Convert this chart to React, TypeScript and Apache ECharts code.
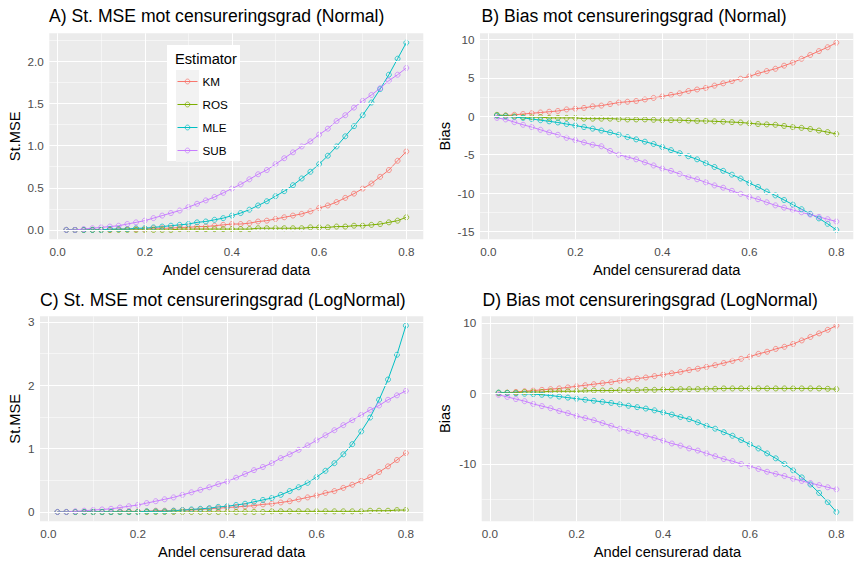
import { useEffect, useRef } from "react";
import * as echarts from "echarts";

// andel censurerad data (x)
const X_VALUES = [
  0.02, 0.04, 0.06, 0.08, 0.1, 0.12, 0.14, 0.16, 0.18, 0.2,
  0.22, 0.24, 0.26, 0.28, 0.3, 0.32, 0.34, 0.36, 0.38, 0.4,
  0.42, 0.44, 0.46, 0.48, 0.5, 0.52, 0.54, 0.56, 0.58, 0.6,
  0.62, 0.64, 0.66, 0.68, 0.7, 0.72, 0.74, 0.76, 0.78, 0.8,
];

const ESTIMATORS = ["KM", "ROS", "MLE", "SUB"];
const COLORS = ["#F8766D", "#7CAE00", "#00BFC4", "#C77CFF"];

// A) St. MSE, Normal
const A_KM = [
  0, 0, 0, 0, 0, 0, 0.01, 0.01, 0.01, 0.01,
  0.02, 0.02, 0.02, 0.03, 0.03, 0.04, 0.04, 0.05, 0.06, 0.07,
  0.07, 0.08, 0.1, 0.11, 0.13, 0.15, 0.17, 0.19, 0.22, 0.26,
  0.29, 0.33, 0.38, 0.43, 0.49, 0.55, 0.63, 0.71, 0.82, 0.93,
];
const A_ROS = [
  0, 0, 0, 0, 0, 0, 0, 0, 0, 0,
  0, 0, 0, 0.01, 0.01, 0.01, 0.01, 0.01, 0.01, 0.01,
  0.01, 0.01, 0.02, 0.02, 0.02, 0.02, 0.02, 0.02, 0.03, 0.03,
  0.03, 0.04, 0.04, 0.05, 0.05, 0.06, 0.07, 0.09, 0.11, 0.15,
];
const A_MLE = [
  0, 0, 0, 0, 0, 0.01, 0.01, 0.01, 0.02, 0.02,
  0.03, 0.04, 0.05, 0.06, 0.07, 0.09, 0.1, 0.12, 0.14, 0.17,
  0.2, 0.24, 0.29, 0.34, 0.4, 0.46, 0.53, 0.61, 0.69, 0.78,
  0.88, 0.99, 1.11, 1.23, 1.36, 1.51, 1.67, 1.84, 2.03, 2.22,
];
const A_SUB = [
  0, 0, 0.01, 0.02, 0.03, 0.04, 0.05, 0.07, 0.09, 0.11,
  0.14, 0.17, 0.2, 0.23, 0.27, 0.31, 0.35, 0.39, 0.44, 0.49,
  0.54, 0.6, 0.66, 0.71, 0.78, 0.85, 0.92, 0.99, 1.05, 1.13,
  1.2, 1.29, 1.36, 1.45, 1.53, 1.6, 1.68, 1.77, 1.84, 1.92,
];

// B) Bias, Normal
const B_KM = [
  0.1, 0.1, 0.2, 0.3, 0.4, 0.5, 0.6, 0.7, 0.9, 1.0,
  1.1, 1.3, 1.4, 1.6, 1.8, 1.9, 2.0, 2.2, 2.4, 2.6,
  2.8, 3.0, 3.3, 3.5, 3.7, 4.0, 4.3, 4.6, 4.9, 5.2,
  5.6, 5.9, 6.2, 6.6, 7.0, 7.5, 8.0, 8.5, 9.0, 9.6,
];
const B_ROS = [
  0.2, 0.1, 0, -0.1, -0.1, -0.1, -0.2, -0.2, -0.2, -0.2,
  -0.3, -0.3, -0.3, -0.3, -0.35, -0.4, -0.4, -0.4, -0.45, -0.5,
  -0.5, -0.5, -0.55, -0.6, -0.6, -0.65, -0.7, -0.75, -0.8, -0.9,
  -1.0, -1.05, -1.1, -1.25, -1.4, -1.5, -1.65, -1.85, -2.05, -2.3,
];
const B_MLE = [
  0.1, 0, -0.1, -0.2, -0.35, -0.5, -0.65, -0.8, -1.0, -1.2,
  -1.4, -1.6, -1.85, -2.1, -2.4, -2.7, -3.0, -3.3, -3.6, -4.0,
  -4.4, -4.8, -5.2, -5.6, -6.1, -6.6, -7.1, -7.6, -8.1, -8.7,
  -9.2, -9.8, -10.3, -10.9, -11.5, -12.1, -12.7, -13.3, -14.0, -14.8,
];
const B_SUB = [
  -0.2, -0.4, -0.75, -1.1, -1.4, -1.75, -2.1, -2.4, -2.8, -3.1,
  -3.4, -3.7, -3.9, -4.5, -5.0, -5.3, -5.6, -6.0, -6.4, -6.8,
  -7.1, -7.5, -7.9, -8.2, -8.6, -9.0, -9.3, -9.7, -10.1, -10.5,
  -10.8, -11.2, -11.6, -11.9, -12.2, -12.5, -12.8, -13.1, -13.4, -13.7,
];

// C) St. MSE, LogNormal
const C_KM = [
  0, 0, 0, 0, 0, 0, 0, 0.01, 0.01, 0.01,
  0.01, 0.02, 0.02, 0.02, 0.03, 0.03, 0.04, 0.05, 0.06, 0.07,
  0.08, 0.09, 0.1, 0.12, 0.13, 0.15, 0.17, 0.2, 0.23, 0.26,
  0.3, 0.33, 0.38, 0.43, 0.49, 0.55, 0.63, 0.72, 0.82, 0.93,
];
const C_ROS = [
  0, 0, 0, 0, 0, 0, 0, 0, 0, 0,
  0, 0, 0, 0, 0, 0, 0, 0, 0, 0,
  0, 0, 0, 0, 0.01, 0.01, 0.01, 0.01, 0.01, 0.01,
  0.01, 0.01, 0.01, 0.01, 0.01, 0.02, 0.02, 0.02, 0.03, 0.03,
];
const C_MLE = [
  0, 0, 0, 0, 0, 0, 0, 0, 0, 0,
  0.01, 0.01, 0.01, 0.02, 0.03, 0.04, 0.05, 0.06, 0.08, 0.09,
  0.11, 0.13, 0.16, 0.19, 0.22, 0.27, 0.33, 0.39, 0.46, 0.55,
  0.65, 0.77, 0.91, 1.07, 1.27, 1.49, 1.77, 2.09, 2.48, 2.94,
];
const C_SUB = [
  0, 0, 0.01, 0.02, 0.03, 0.04, 0.05, 0.07, 0.09, 0.11,
  0.14, 0.17, 0.2, 0.23, 0.27, 0.31, 0.35, 0.39, 0.44, 0.48,
  0.54, 0.6, 0.66, 0.71, 0.77, 0.85, 0.91, 0.98, 1.05, 1.13,
  1.21, 1.29, 1.37, 1.45, 1.53, 1.61, 1.68, 1.77, 1.84, 1.91,
];

// D) Bias, LogNormal
const D_KM = [
  0, 0.1, 0.2, 0.3, 0.4, 0.5, 0.6, 0.7, 0.85, 1.0,
  1.15, 1.3, 1.45, 1.6, 1.8, 1.95, 2.1, 2.25, 2.45, 2.65,
  2.85, 3.05, 3.3, 3.5, 3.75, 4.0, 4.3, 4.6, 4.9, 5.2,
  5.6, 5.9, 6.3, 6.6, 7.0, 7.5, 8.0, 8.5, 9.0, 9.6,
];
const D_ROS = [
  0.1, 0.1, 0.1, 0.2, 0.2, 0.2, 0.3, 0.3, 0.3, 0.3,
  0.35, 0.4, 0.4, 0.4, 0.45, 0.45, 0.45, 0.5, 0.5, 0.55,
  0.55, 0.6, 0.6, 0.6, 0.65, 0.65, 0.7, 0.7, 0.7, 0.7,
  0.7, 0.7, 0.7, 0.7, 0.7, 0.7, 0.7, 0.7, 0.65, 0.6,
];
const D_MLE = [
  0.1, 0.05, 0, -0.05, -0.1, -0.2, -0.3, -0.45, -0.6, -0.75,
  -0.9, -1.05, -1.2, -1.35, -1.55, -1.75, -1.95, -2.15, -2.4, -2.7,
  -3.0, -3.35, -3.65, -4.1, -4.6, -5.0, -5.5, -6.0, -6.6, -7.2,
  -7.8, -8.5, -9.2, -10.0, -10.9, -11.9, -12.9, -14.1, -15.4, -16.8,
];
const D_SUB = [
  -0.2, -0.5, -0.8, -1.1, -1.5, -1.8, -2.1, -2.5, -2.8, -3.2,
  -3.5, -3.8, -4.2, -4.6, -5.0, -5.3, -5.6, -6.0, -6.3, -6.7,
  -7.1, -7.4, -7.8, -8.1, -8.5, -8.9, -9.3, -9.6, -10.0, -10.3,
  -10.7, -11.1, -11.4, -11.7, -12.1, -12.4, -12.7, -13.0, -13.3, -13.6,
];

const X_TICKS = [0, 0.2, 0.4, 0.6, 0.8];
const X_MINOR = [0.1, 0.3, 0.5, 0.7];

const TITLES = [
  "A) St. MSE mot censureringsgrad (Normal)",
  "B) Bias mot censureringsgrad (Normal)",
  "C) St. MSE mot censureringsgrad (LogNormal)",
  "D) Bias mot censureringsgrad (LogNormal)",
];
const Y_NAMES = ["St.MSE", "Bias", "St.MSE", "Bias"];
const X_NAME = "Andel censurerad data";

const A_Y_TICKS = [0, 0.5, 1, 1.5, 2];
const A_Y_MINOR = [0.25, 0.75, 1.25, 1.75, 2.25];
const B_Y_TICKS = [-15, -10, -5, 0, 5, 10];
const B_Y_MINOR = [-12.5, -7.5, -2.5, 2.5, 7.5];
const C_Y_TICKS = [0, 1, 2, 3];
const C_Y_MINOR = [0.5, 1.5, 2.5];
const D_Y_TICKS = [-10, 0, 10];
const D_Y_MINOR = [-15, -5, 5];

const PANELS = [
  { series: [A_KM, A_ROS, A_MLE, A_SUB], yTicks: A_Y_TICKS, yMinor: A_Y_MINOR, digits: 1 },
  { series: [B_KM, B_ROS, B_MLE, B_SUB], yTicks: B_Y_TICKS, yMinor: B_Y_MINOR, digits: 0 },
  { series: [C_KM, C_ROS, C_MLE, C_SUB], yTicks: C_Y_TICKS, yMinor: C_Y_MINOR, digits: 0 },
  { series: [D_KM, D_ROS, D_MLE, D_SUB], yTicks: D_Y_TICKS, yMinor: D_Y_MINOR, digits: 0 },
];

// pixel layout of the four panels
const LAYOUT = [
  { left: 49.3, top: 33.3, width: 374, height: 206, titleLeft: 49, titleTop: 7, yGap: 27 },
  { left: 480, top: 33.3, width: 373.3, height: 206, titleLeft: 481.5, titleTop: 7, yGap: 28 },
  { left: 40, top: 316.3, width: 383.3, height: 205, titleLeft: 40, titleTop: 290.5, yGap: 18 },
  { left: 481.7, top: 316.3, width: 371.6, height: 205, titleLeft: 482.5, titleTop: 290.5, yGap: 29.5 },
];

const FONT = '"Liberation Sans", Arial, sans-serif';
const PANEL_BG = "#EBEBEB";

// ggplot-style 5% expansion
function expand(values: number[]): [number, number] {
  const lo = Math.min(...values);
  const hi = Math.max(...values);
  const pad = (hi - lo) * 0.05;
  return [lo - pad, hi + pad];
}

function buildOption(): echarts.EChartsOption {
  const [xMin, xMax] = expand(X_VALUES);
  const grid: any[] = [];
  const xAxis: any[] = [];
  const yAxis: any[] = [];
  const series: any[] = [];
  const title: any[] = [];

  const major = { color: "#FFFFFF", width: 1.1, type: "solid" };
  const minor = { color: "#FFFFFF", width: 0.5, type: "solid" };

  PANELS.forEach((p, i) => {
    const L = LAYOUT[i];
    const [yMin, yMax] = expand(p.series.flat());
    grid.push({
      left: L.left,
      top: L.top,
      width: L.width,
      height: L.height,
      show: true,
      backgroundColor: PANEL_BG,
      borderWidth: 0,
    });
    title.push({
      text: TITLES[i],
      left: L.titleLeft,
      top: L.titleTop,
      padding: 0,
      textStyle: { fontFamily: FONT, fontSize: 17.6, fontWeight: "normal", color: "#000000" },
    });
    xAxis.push({
      type: "value",
      gridIndex: i,
      min: xMin,
      max: xMax,
      name: X_NAME,
      nameLocation: "middle",
      nameGap: 23,
      nameTextStyle: { fontFamily: FONT, fontSize: 14.67, color: "#000000" },
      axisLine: { show: false },
      axisTick: { show: true, length: 3.7, lineStyle: { color: "#333333", width: 1 }, customValues: X_TICKS },
      axisLabel: {
        customValues: X_TICKS,
        formatter: (v: number) => v.toFixed(1),
        fontFamily: FONT,
        fontSize: 11.7,
        color: "#4D4D4D",
        margin: 6,
      },
      splitLine: { show: false },
    });
    yAxis.push({
      type: "value",
      gridIndex: i,
      min: yMin,
      max: yMax,
      name: Y_NAMES[i],
      nameLocation: "middle",
      nameRotate: 90,
      nameGap: L.yGap,
      nameTextStyle: { fontFamily: FONT, fontSize: 14.67, color: "#000000" },
      axisLine: { show: false },
      axisTick: { show: true, length: 3.7, lineStyle: { color: "#333333", width: 1 }, customValues: p.yTicks },
      axisLabel: {
        customValues: p.yTicks,
        formatter: (v: number) => v.toFixed(p.digits),
        fontFamily: FONT,
        fontSize: 11.7,
        color: "#4D4D4D",
        margin: 5.5,
      },
      splitLine: { show: false },
    });
    // panel grid lines (ggplot major + minor) through the axes' scales
    series.push({
      type: "line",
      name: "grid" + i,
      xAxisIndex: i,
      yAxisIndex: i,
      data: [],
      z: 1,
      silent: true,
      markLine: {
        silent: true,
        symbol: ["none", "none"],
        label: { show: false },
        emphasis: { disabled: true },
        animation: false,
        data: [
          ...X_MINOR.map((v) => ({ xAxis: v, lineStyle: minor })),
          ...p.yMinor.map((v) => ({ yAxis: v, lineStyle: minor })),
          ...X_TICKS.map((v) => ({ xAxis: v, lineStyle: major })),
          ...p.yTicks.map((v) => ({ yAxis: v, lineStyle: major })),
        ],
      },
    });
    p.series.forEach((vals, k) => {
      series.push({
        type: "line",
        name: ESTIMATORS[k],
        xAxisIndex: i,
        yAxisIndex: i,
        data: X_VALUES.map((x, j) => [x, vals[j]]),
        z: 2,
        color: COLORS[k],
        symbol: "circle",
        symbolSize: 5,
        showSymbol: true,
        lineStyle: { color: COLORS[k], width: 1 },
        itemStyle: { color: "transparent", borderColor: COLORS[k], borderWidth: 0.75 },
        emphasis: { disabled: true },
      });
    });
  });

  return {
    animation: false,
    backgroundColor: "#FFFFFF",
    title,
    grid,
    xAxis,
    yAxis,
    series,
    legend: {
      data: ESTIMATORS.map((name, k) => ({
        name,
        itemStyle: { color: "transparent", borderColor: COLORS[k], borderWidth: 0.75 },
        lineStyle: { color: COLORS[k], width: 1 },
      })),
      orient: "vertical",
      left: 177,
      top: 70,
      padding: 0,
      itemGap: 0,
      itemWidth: 20,
      itemHeight: 6,
      selectedMode: false,
      z: 20,
      textStyle: { fontFamily: FONT, fontSize: 11.7, color: "#000000", lineHeight: 23 },
    },
    graphic: {
      elements: [
        {
          type: "group",
          z: 10,
          silent: true,
          children: [
            {
              type: "rect",
              z: 10,
              shape: { x: 167, y: 45, width: 73, height: 116 },
              style: { fill: "#FFFFFF" },
            },
            ...ESTIMATORS.map((_, k) => ({
              type: "rect",
              z: 11,
              shape: { x: 176, y: 70 + 23 * k, width: 23, height: 23 },
              style: { fill: "#F2F2F2" },
            })),
            {
              type: "text",
              z: 12,
              x: 175,
              y: 59,
              style: {
                text: "Estimator",
                fontFamily: FONT,
                fontSize: 14.67,
                fill: "#000000",
                verticalAlign: "middle",
              },
            },
          ],
        },
      ],
    },
  };
}

export default function App() {
  const ref = useRef<HTMLDivElement | null>(null);

  useEffect(() => {
    const el = ref.current;
    if (!el) return;
    const chart = echarts.init(el, undefined, { renderer: "svg" });
    chart.setOption(buildOption());
    return () => {
      chart.dispose();
    };
  }, []);

  return (
    <div
      ref={ref}
      style={{ position: "fixed", left: 0, top: 0, width: 861, height: 566, background: "#FFFFFF" }}
    />
  );
}
